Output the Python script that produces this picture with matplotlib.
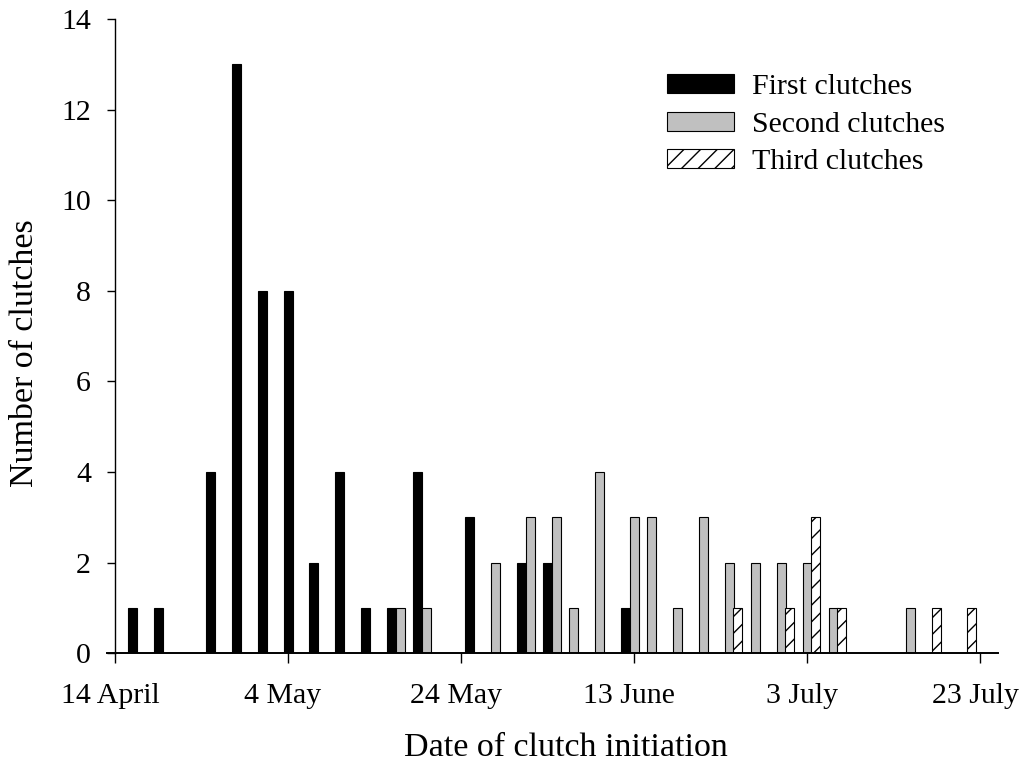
import numpy as np
import matplotlib
matplotlib.use('Agg')
import matplotlib.pyplot as plt
import matplotlib.transforms as mtransforms
from matplotlib.patches import Patch

plt.rcParams['font.family'] = ['Liberation Serif', 'DejaVu Serif']
plt.rcParams['hatch.linewidth'] = 1.0

# Days counted from 14 April
first_days = [2, 5, 11, 14, 17, 20, 23, 26, 29, 32, 35, 41, 47, 50, 59]
first_counts = [1, 1, 4, 13, 8, 8, 2, 4, 1, 1, 4, 3, 2, 2, 1]

second_days = [33, 36, 44, 48, 51, 53, 56, 60, 62, 65, 68, 71, 74, 77, 80, 83, 92]
second_counts = [1, 1, 2, 3, 3, 1, 4, 3, 3, 1, 3, 2, 2, 2, 2, 1, 1]

third_days = [72, 78, 81, 84, 95, 99]
third_counts = [1, 1, 3, 1, 1, 1]

tick_days = [0, 20, 40, 60, 80, 100]
tick_labels = ['14 April', '4 May', '24 May', '13 June', '3 July', '23 July']

fs = 21.5
label_fs = 24.5
bar_w = 1.04

fig = plt.figure(figsize=(10.19, 7.64), dpi=100)
ax = fig.add_axes([0.1047, 0.1449, 0.875, 0.8302])

ax.bar(first_days, first_counts, width=bar_w, color='black', edgecolor='black', linewidth=0.8)
ax.bar(second_days, second_counts, width=bar_w, color='#c0c0c0', edgecolor='black', linewidth=0.8)
ax.bar(third_days, third_counts, width=bar_w, color='white', edgecolor='black', linewidth=0.8, hatch='//')

ax.set_xlim(-0.96, 102.1)
ax.set_ylim(0, 14)
ax.set_yticks(range(0, 15, 2))
ax.set_xticks(tick_days)
ax.set_xticklabels(tick_labels)

ax.spines['top'].set_visible(False)
ax.spines['right'].set_visible(False)
ax.spines['left'].set_position(('data', 0))
ax.spines['left'].set_linewidth(1.0)
ax.spines['bottom'].set_linewidth(1.4)

ax.tick_params(axis='y', direction='out', length=5.8, width=1.0, pad=11.5, labelsize=fs)
ax.tick_params(axis='x', direction='out', length=7.2, width=1.0, pad=14, labelsize=fs)

# nudge the date labels a little to the left, like the original
shift = mtransforms.ScaledTranslation(-5 / 100, 0, fig.dpi_scale_trans)
for lbl in ax.get_xticklabels():
    lbl.set_transform(lbl.get_transform() + shift)

fig.text(566 / 1019, 1 - 756 / 764, 'Date of clutch initiation', ha='center', va='baseline', fontsize=label_fs)
fig.text(33 / 1019, 1 - 353 / 764, 'Number of clutches', ha='center', va='baseline', rotation=90,
         rotation_mode='anchor', fontsize=label_fs)

handles = [Patch(facecolor='black', edgecolor='black', linewidth=0.8),
           Patch(facecolor='#c0c0c0', edgecolor='black', linewidth=0.8),
           Patch(facecolor='white', edgecolor='black', linewidth=0.8, hatch='//')]
ax.legend(handles, ['First clutches', 'Second clutches', 'Third clutches'],
          loc='upper left', bbox_to_anchor=(667 / 1019, 1 - 74 / 764), bbox_transform=fig.transFigure,
          frameon=False, fontsize=fs, borderpad=0, borderaxespad=0,
          handlelength=2.24, handleheight=0.6, handletextpad=0.59, labelspacing=0.39)

fig.savefig('out.png', dpi=100)
